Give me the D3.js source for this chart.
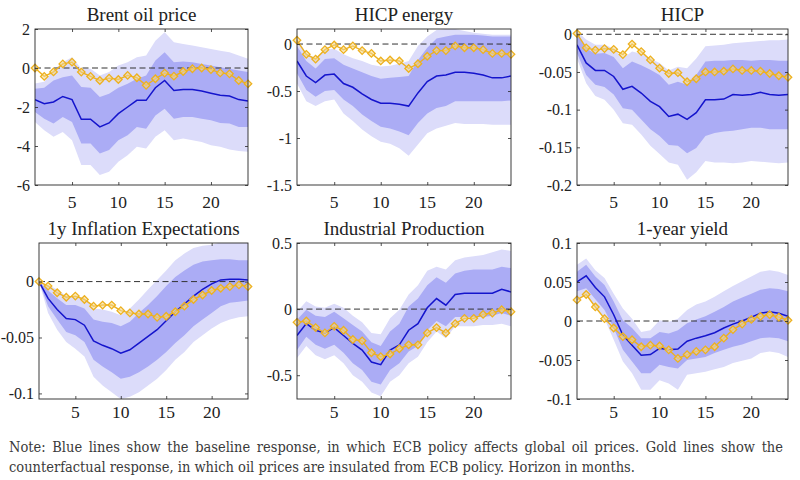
<!DOCTYPE html>
<html>
<head>
<meta charset="utf-8">
<script src="https://cdn.jsdelivr.net/npm/d3@7"></script>
<style>
  body { margin: 0; background: #fff; }
  svg text { font-family: "Liberation Serif", "Times New Roman", serif; fill: #222; }
  .note { font-family: "DejaVu Serif Condensed", "DejaVu Serif", serif; font-stretch: condensed; fill: #3a3a3a; }
</style>
</head>
<body>
<script>
const horizon = [1,2,3,4,5,6,7,8,9,10,11,12,13,14,15,16,17,18,19,20,21,22,23,24];
const xTicks = [5, 10, 15, 20];

// Brent oil price
const brentMid  = [-1.62,-1.83,-1.74,-1.46,-1.62,-2.63,-2.63,-3.02,-2.82,-2.34,-2.0,-1.66,-1.66,-1.01,-0.64,-1.15,-1.10,-1.10,-1.18,-1.29,-1.40,-1.44,-1.62,-1.69];
const brentGold = [0,-0.43,-0.2,0.21,0.3,-0.21,-0.43,-0.64,-0.52,-0.59,-0.38,-0.5,-0.89,-0.55,-0.26,-0.42,-0.18,-0.04,0.0,-0.08,-0.25,-0.3,-0.64,-0.81];
const brentHi68 = [-1.06,-1.01,-0.64,-0.47,-0.38,-0.98,-1.01,-1.49,-1.32,-1.01,-0.81,-0.55,-0.38,0.38,0.81,0.30,0.33,0.30,0.21,0.13,0.04,-0.04,-0.13,-0.21];
const brentLo68 = [-2.26,-2.60,-2.85,-2.51,-2.77,-3.87,-3.87,-4.38,-4.21,-3.70,-3.45,-3.02,-3.11,-2.43,-2.09,-2.60,-2.51,-2.51,-2.60,-2.68,-2.82,-2.85,-3.02,-3.02];
const brentHi90 = [-0.8,-0.7,-0.1,0.3,0.55,-0.04,-0.04,-0.38,-0.21,0.13,0.30,0.55,0.64,1.40,1.83,1.32,1.23,1.15,1.06,0.98,0.89,0.81,0.64,0.47];
const brentLo90 = [-2.77,-3.19,-3.53,-3.28,-3.70,-4.98,-4.98,-5.49,-5.32,-4.81,-4.47,-4.04,-4.13,-3.53,-3.19,-3.70,-3.62,-3.70,-3.79,-3.96,-4.04,-4.18,-4.25,-4.30];
const brentTicks = [-6, -4, -2, 0, 2];

// HICP energy
const energyMid  = [-0.18,-0.34,-0.41,-0.33,-0.32,-0.42,-0.46,-0.53,-0.59,-0.63,-0.63,-0.64,-0.66,-0.52,-0.40,-0.34,-0.33,-0.30,-0.30,-0.31,-0.33,-0.36,-0.36,-0.34];
const energyGold = [0.04,-0.11,-0.16,-0.06,-0.01,-0.06,-0.02,-0.07,-0.10,-0.18,-0.17,-0.18,-0.26,-0.21,-0.13,-0.07,-0.07,-0.02,-0.04,-0.04,-0.06,-0.10,-0.10,-0.11];
const energyHi68 = [-0.02,-0.18,-0.26,-0.16,-0.15,-0.22,-0.26,-0.30,-0.34,-0.37,-0.36,-0.35,-0.34,-0.17,-0.04,0.06,0.08,0.10,0.10,0.10,0.09,0.08,0.08,0.08];
const energyLo68 = [-0.31,-0.49,-0.56,-0.50,-0.49,-0.59,-0.66,-0.75,-0.82,-0.88,-0.90,-0.93,-0.97,-0.84,-0.74,-0.68,-0.66,-0.61,-0.61,-0.61,-0.61,-0.61,-0.61,-0.60];
const energyHi90 = [0.06,-0.10,-0.15,-0.06,-0.05,-0.11,-0.15,-0.18,-0.22,-0.24,-0.23,-0.21,-0.18,-0.02,0.08,0.15,0.16,0.16,0.14,0.12,0.11,0.10,0.10,0.10];
const energyLo90 = [-0.42,-0.61,-0.66,-0.61,-0.59,-0.74,-0.82,-0.91,-0.98,-1.04,-1.06,-1.11,-1.19,-1.07,-0.95,-0.90,-0.87,-0.84,-0.85,-0.85,-0.85,-0.86,-0.86,-0.86];
const energyTicks = [-1.5, -1, -0.5, 0];

// HICP
const hicpMid  = [-0.014,-0.038,-0.048,-0.048,-0.056,-0.073,-0.069,-0.078,-0.089,-0.096,-0.109,-0.106,-0.113,-0.104,-0.087,-0.087,-0.086,-0.080,-0.081,-0.080,-0.077,-0.080,-0.081,-0.080];
const hicpGold = [0.001,-0.018,-0.021,-0.019,-0.020,-0.027,-0.013,-0.023,-0.034,-0.045,-0.052,-0.051,-0.063,-0.059,-0.050,-0.050,-0.049,-0.046,-0.048,-0.048,-0.049,-0.052,-0.055,-0.057];
const hicpHi68 = [0,-0.019,-0.026,-0.025,-0.030,-0.045,-0.036,-0.041,-0.047,-0.054,-0.067,-0.063,-0.067,-0.054,-0.036,-0.035,-0.035,-0.034,-0.034,-0.035,-0.034,-0.034,-0.035,-0.035];
const hicpLo68 = [-0.025,-0.054,-0.067,-0.070,-0.080,-0.098,-0.100,-0.113,-0.126,-0.135,-0.147,-0.148,-0.158,-0.151,-0.135,-0.131,-0.129,-0.128,-0.126,-0.124,-0.124,-0.126,-0.126,-0.126];
const hicpHi90 = [0.004,-0.007,-0.014,-0.014,-0.019,-0.032,-0.023,-0.026,-0.032,-0.038,-0.048,-0.043,-0.045,-0.032,-0.016,-0.015,-0.014,-0.012,-0.011,-0.010,-0.009,-0.008,-0.008,-0.007];
const hicpLo90 = [-0.032,-0.065,-0.082,-0.087,-0.100,-0.118,-0.120,-0.133,-0.148,-0.159,-0.170,-0.173,-0.193,-0.183,-0.168,-0.170,-0.170,-0.171,-0.170,-0.168,-0.169,-0.170,-0.171,-0.170];
const hicpTicks = [-0.2, -0.15, -0.1, -0.05, 0];

// 1y inflation expectations
const inflMid  = [0,-0.015,-0.025,-0.033,-0.034,-0.039,-0.053,-0.057,-0.060,-0.064,-0.061,-0.055,-0.049,-0.043,-0.035,-0.027,-0.020,-0.013,-0.007,-0.002,0.0015,0.002,0.002,0.0015];
const inflGold = [0,-0.004,-0.010,-0.014,-0.013,-0.016,-0.022,-0.021,-0.021,-0.026,-0.028,-0.029,-0.029,-0.032,-0.031,-0.027,-0.022,-0.016,-0.012,-0.008,-0.006,-0.0045,-0.003,-0.0045];
const inflHi68 = [0,-0.008,-0.015,-0.021,-0.021,-0.024,-0.034,-0.036,-0.037,-0.040,-0.036,-0.028,-0.021,-0.013,-0.004,0.004,0.010,0.015,0.018,0.019,0.020,0.020,0.019,0.019];
const inflLo68 = [0,-0.022,-0.034,-0.045,-0.048,-0.054,-0.070,-0.076,-0.081,-0.087,-0.085,-0.081,-0.076,-0.070,-0.063,-0.055,-0.048,-0.040,-0.034,-0.028,-0.022,-0.019,-0.018,-0.017];
const inflHi90 = [0,-0.003,-0.007,-0.013,-0.013,-0.015,-0.024,-0.025,-0.027,-0.030,-0.024,-0.016,-0.007,0.0015,0.010,0.019,0.025,0.030,0.032,0.033,0.035,0.036,0.036,0.036];
const inflLo90 = [0,-0.028,-0.043,-0.054,-0.060,-0.067,-0.085,-0.093,-0.099,-0.105,-0.103,-0.099,-0.093,-0.087,-0.079,-0.070,-0.063,-0.054,-0.048,-0.042,-0.037,-0.034,-0.032,-0.031];
const inflTicks = [-0.1, -0.05, 0];

// Industrial production
const ipMid  = [-0.20,-0.11,-0.16,-0.18,-0.14,-0.20,-0.26,-0.31,-0.40,-0.42,-0.31,-0.27,-0.16,-0.11,0.01,0.08,0.03,0.11,0.12,0.12,0.12,0.12,0.15,0.13];
const ipGold = [-0.10,-0.09,-0.14,-0.18,-0.13,-0.16,-0.23,-0.24,-0.33,-0.36,-0.34,-0.30,-0.27,-0.27,-0.18,-0.14,-0.18,-0.11,-0.07,-0.07,-0.04,-0.03,-0.005,-0.02];
const ipHi68 = [-0.08,-0.005,-0.05,-0.06,-0.02,-0.07,-0.12,-0.17,-0.25,-0.28,-0.17,-0.11,0.02,0.08,0.18,0.24,0.20,0.27,0.29,0.30,0.30,0.30,0.32,0.31];
const ipLo68 = [-0.31,-0.21,-0.27,-0.30,-0.27,-0.33,-0.41,-0.46,-0.55,-0.57,-0.46,-0.41,-0.32,-0.28,-0.16,-0.09,-0.13,-0.06,-0.06,-0.06,-0.06,-0.05,-0.03,-0.05];
const ipHi90 = [-0.02,0.06,0.02,0.01,0.04,0.01,-0.05,-0.10,-0.18,-0.19,-0.07,-0.005,0.11,0.18,0.29,0.32,0.30,0.37,0.39,0.40,0.41,0.43,0.45,0.44];
const ipLo90 = [-0.37,-0.28,-0.35,-0.38,-0.35,-0.41,-0.50,-0.55,-0.63,-0.66,-0.55,-0.50,-0.41,-0.36,-0.25,-0.17,-0.22,-0.13,-0.13,-0.13,-0.12,-0.12,-0.11,-0.13];
const ipTicks = [-0.5, 0, 0.5];

// 1-year yield
const yieldMid  = [0.050,0.058,0.043,0.031,0.008,-0.018,-0.031,-0.044,-0.043,-0.035,-0.037,-0.036,-0.026,-0.022,-0.019,-0.015,-0.009,-0.004,0,0.005,0.010,0.012,0.010,0.006];
const yieldGold = [0.027,0.034,0.018,0.003,-0.009,-0.020,-0.024,-0.033,-0.031,-0.032,-0.037,-0.048,-0.043,-0.039,-0.037,-0.033,-0.022,-0.011,-0.004,0.002,0.006,0.008,0.005,0.001];
const yieldHi68 = [0.063,0.072,0.057,0.046,0.025,0.001,-0.009,-0.022,-0.022,-0.014,-0.016,-0.012,-0.003,0.002,0.006,0.012,0.018,0.025,0.030,0.035,0.040,0.042,0.041,0.038];
const yieldLo68 = [0.038,0.042,0.028,0.014,-0.009,-0.037,-0.052,-0.067,-0.067,-0.056,-0.059,-0.061,-0.050,-0.048,-0.046,-0.041,-0.037,-0.033,-0.030,-0.026,-0.022,-0.021,-0.022,-0.026];
const yieldHi90 = [0.072,0.080,0.065,0.055,0.035,0.016,0.003,-0.014,-0.012,0.001,-0.001,0.003,0.014,0.021,0.025,0.031,0.038,0.045,0.051,0.057,0.063,0.065,0.063,0.059];
const yieldLo90 = [0.027,0.033,0.018,0.003,-0.024,-0.052,-0.067,-0.088,-0.088,-0.076,-0.080,-0.088,-0.069,-0.067,-0.065,-0.062,-0.059,-0.054,-0.051,-0.048,-0.041,-0.039,-0.041,-0.046];
const yieldTicks = [-0.1, -0.05, 0, 0.05, 0.1];

const noteLine1 = "Note: Blue lines show the baseline response, in which ECB policy affects global oil prices. Gold lines show the";
const noteLine2 = "counterfactual response, in which oil prices are insulated from ECB policy. Horizon in months.";

const panels = [
  {title: "Brent oil price", box: [35, 248, 29, 185], ylim: [-6, 2], ticks: brentTicks,
   mid: brentMid, gold: brentGold, hi68: brentHi68, lo68: brentLo68, hi90: brentHi90, lo90: brentLo90},
  {title: "HICP energy", box: [297, 511, 29, 185], ylim: [-1.5, 0.16], ticks: energyTicks,
   mid: energyMid, gold: energyGold, hi68: energyHi68, lo68: energyLo68, hi90: energyHi90, lo90: energyLo90},
  {title: "HICP", box: [577, 788, 29, 185], ylim: [-0.2, 0.007], ticks: hicpTicks,
   mid: hicpMid, gold: hicpGold, hi68: hicpHi68, lo68: hicpLo68, hi90: hicpHi90, lo90: hicpLo90},
  {title: "1y Inflation Expectations", box: [39, 248, 243, 399], ylim: [-0.105, 0.0345], ticks: inflTicks,
   mid: inflMid, gold: inflGold, hi68: inflHi68, lo68: inflLo68, hi90: inflHi90, lo90: inflLo90},
  {title: "Industrial Production", box: [297, 511, 243, 399], ylim: [-0.68, 0.5], ticks: ipTicks,
   mid: ipMid, gold: ipGold, hi68: ipHi68, lo68: ipLo68, hi90: ipHi90, lo90: ipLo90},
  {title: "1-year yield", box: [577, 788, 243, 399], ylim: [-0.1, 0.1], ticks: yieldTicks,
   mid: yieldMid, gold: yieldGold, hi68: yieldHi68, lo68: yieldLo68, hi90: yieldHi90, lo90: yieldLo90}
];

const svg = d3.select("body").append("svg")
    .attr("width", 800)
    .attr("height", 480);

panels.forEach((p, i) => {
    const [left, right, top, bottom] = p.box;
    const x = d3.scaleLinear().domain([1, 24]).range([left, right]);
    const y = d3.scaleLinear().domain(p.ylim).range([bottom, top]);

    const g = svg.append("g");
    const clipId = "clip" + i;
    g.append("clipPath").attr("id", clipId)
      .append("rect")
        .attr("x", left).attr("y", top)
        .attr("width", right - left).attr("height", bottom - top);

    const plot = g.append("g").attr("clip-path", `url(#${clipId})`);

    const band = (lo, hi) => d3.area()
        .x((d, j) => x(horizon[j]))
        .y0((d, j) => y(lo[j]))
        .y1((d, j) => y(hi[j]));

    plot.append("path")
        .attr("d", band(p.lo90, p.hi90)(horizon))
        .attr("fill", "#dcdcfa");
    plot.append("path")
        .attr("d", band(p.lo68, p.hi68)(horizon))
        .attr("fill", "#abacf5");

    plot.append("line")
        .attr("x1", left).attr("x2", right)
        .attr("y1", y(0)).attr("y2", y(0))
        .attr("stroke", "#333")
        .attr("stroke-width", 1)
        .attr("stroke-dasharray", "6,3.5");

    const line = vals => d3.line()
        .x((d, j) => x(horizon[j]))
        .y((d, j) => y(vals[j]));

    plot.append("path")
        .attr("d", line(p.mid)(horizon))
        .attr("fill", "none")
        .attr("stroke", "#1414cc")
        .attr("stroke-width", 1.5);

    g.append("path")
        .attr("d", line(p.gold)(horizon))
        .attr("fill", "none")
        .attr("stroke", "#EDB120")
        .attr("stroke-width", 1.4);

    g.selectAll(".mk")
      .data(horizon)
      .enter().append("path")
        .attr("d", d3.symbol(d3.symbolSquare, 28)())
        .attr("transform", (d, j) => `translate(${x(d)},${y(p.gold[j])}) rotate(45)`)
        .attr("fill", "#f4d88f")
        .attr("fill-opacity", 0.55)
        .attr("stroke", "#EDB120")
        .attr("stroke-width", 1.3);

    // axes, matlab style: ticks inside on all four sides
    const tl = 3;
    g.append("g")
        .attr("transform", `translate(0,${bottom})`)
        .call(d3.axisBottom(x).tickValues(xTicks).tickSizeInner(-tl).tickSizeOuter(0).tickFormat(""));
    g.append("g")
        .attr("transform", `translate(0,${top})`)
        .call(d3.axisTop(x).tickValues(xTicks).tickSizeInner(-tl).tickSizeOuter(0).tickFormat(""));
    g.append("g")
        .attr("transform", `translate(${left},0)`)
        .call(d3.axisLeft(y).tickValues(p.ticks).tickSizeInner(-tl).tickSizeOuter(0).tickFormat(""));
    g.append("g")
        .attr("transform", `translate(${right},0)`)
        .call(d3.axisRight(y).tickValues(p.ticks).tickSizeInner(-tl).tickSizeOuter(0).tickFormat(""));
    g.selectAll(".domain").attr("stroke", "none");
    g.selectAll(".tick line").attr("stroke", "#262626").attr("stroke-width", 0.8);

    g.append("rect")
        .attr("x", left).attr("y", top)
        .attr("width", right - left).attr("height", bottom - top)
        .attr("fill", "none")
        .attr("stroke", "#262626")
        .attr("stroke-width", 0.9);

    // tick labels
    g.selectAll(".xl")
      .data(xTicks)
      .enter().append("text")
        .attr("x", d => x(d))
        .attr("y", bottom + (top < 100 ? 23 : 19))
        .attr("text-anchor", "middle")
        .style("font-size", "17.5px")
        .text(d => d);

    g.selectAll(".yl")
      .data(p.ticks)
      .enter().append("text")
        .attr("x", left - 5)
        .attr("y", d => y(d))
        .attr("dy", "0.35em")
        .attr("text-anchor", "end")
        .style("font-size", "16px")
        .text(d => String(d));

    g.append("text")
        .attr("x", (left + right) / 2)
        .attr("y", top < 100 ? 21 : 235)
        .attr("text-anchor", "middle")
        .style("font-size", "19px")
        .text(p.title);
});

// note, first line justified word by word
const words = noteLine1.split(" ");
const note1 = svg.append("g");
const wordNodes = words.map(w => note1.append("text")
    .attr("class", "note")
    .attr("y", 452)
    .style("font-size", "14.5px")
    .text(w));
const widths = wordNodes.map(n => n.node().getComputedTextLength());
const noteLeft = 9, noteRight = 783;
const gap = (noteRight - noteLeft - d3.sum(widths)) / (words.length - 1);
let cx = noteLeft;
wordNodes.forEach((n, j) => { n.attr("x", cx); cx += widths[j] + gap; });

svg.append("text")
    .attr("class", "note")
    .attr("x", noteLeft)
    .attr("y", 472)
    .style("font-size", "14.5px")
    .text(noteLine2);
</script>
</body>
</html>
